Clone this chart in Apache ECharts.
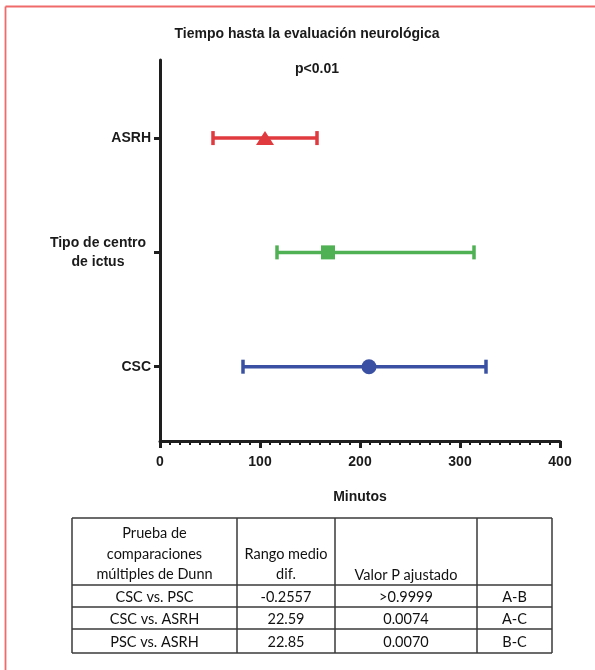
<!DOCTYPE html>
<html>
<head>
<meta charset="utf-8">
<script src="https://cdn.jsdelivr.net/npm/echarts@6/dist/echarts.min.js"></script>
<style>
html,body{margin:0;padding:0;background:#fff;}
#chart{width:595px;height:670px;}
</style>
</head>
<body>
<div id="chart"></div>
<script>
// ---- data ----
const groups = ['CSC', 'PSC', 'ASRH'];
const groupLabels = ['CSC', 'Tipo de centro\nde ictus', 'ASRH'];
const medians = [209, 168, 105];
const lower = [83, 117, 53];
const upper = [326, 314, 157];
const xTicks = [0, 100, 200, 300, 400];
const titleText = 'Tiempo hasta la evaluación neurológica';
const pText = 'p<0.01';
const xName = 'Minutos';
const tableHeader = [
  ['Prueba de', 'comparaciones', 'múltiples de Dunn'],
  ['Rango medio', 'dif.'],
  ['Valor P ajustado'],
  []
];
const tableComparisons = ['CSC vs. PSC', 'CSC vs. ASRH', 'PSC vs. ASRH'];
const tableRankDiff = ['-0.2557', '22.59', '22.85'];
const tablePAdj = ['>0.9999', '0.0074', '0.0070'];
const tablePairs = ['A-B', 'A-C', 'B-C'];

// ---- style ----
const colors = ['#3a51a3', '#4fb153', '#e0393e'];
const symbols = ['circle', 'rect', 'triangle'];
const symbolSizes = [15, 14, [18, 14]];
const axisColor = '#1e1e1e';
const fontMain = 'Liberation Sans, Arial, sans-serif';
const fontTable = 'Lato, Carlito, sans-serif';

const chart = echarts.init(document.getElementById('chart'));

// table geometry
const colX = [72, 237, 335, 477, 552];
const rowY = [518, 585, 607, 629, 653];
const graphics = [];
// red page border (top & left)
graphics.push({type:'line', shape:{x1:5.5, y1:6.5, x2:595, y2:6.5}, style:{stroke:'#f06a6a', lineWidth:1.8}});
graphics.push({type:'line', shape:{x1:5.5, y1:6.5, x2:5.5, y2:670}, style:{stroke:'#f06a6a', lineWidth:1.8}});
// table lines
colX.forEach(x => graphics.push({type:'line', shape:{x1:x, y1:rowY[0], x2:x, y2:rowY[rowY.length-1]}, style:{stroke:'#3a3a3a', lineWidth:1.5}}));
rowY.forEach(y => graphics.push({type:'line', shape:{x1:colX[0], y1:y, x2:colX[colX.length-1], y2:y}, style:{stroke:'#3a3a3a', lineWidth:1.5}}));
// header text (bottom aligned lines)
const headerLineYs = [533, 554, 574];
tableHeader.forEach((lines, c) => {
  const cx = (colX[c] + colX[c+1]) / 2;
  const n = lines.length;
  lines.forEach((t, i) => {
    const y = headerLineYs[3 - n + i] + (c === 2 ? 1 : 0);
    graphics.push({type:'text', x:cx, y:y, style:{text:t, font:'14.5px ' + fontTable, fill:'#111', align:'center', verticalAlign:'middle'}});
  });
});
const cols = [tableComparisons, tableRankDiff, tablePAdj, tablePairs];
cols.forEach((col, c) => {
  const cx = (colX[c] + colX[c+1]) / 2;
  col.forEach((t, r) => {
    const cy = (rowY[r+1] + rowY[r+2]) / 2 + 1;
    graphics.push({type:'text', x:cx, y:cy, style:{text:t, font:'14.5px ' + fontTable, fill:'#111', align:'center', verticalAlign:'middle'}});
  });
});

const errData = groups.map((g, i) => [lower[i], upper[i], i + 1, i]);

const scatterSeries = groups.map((g, i) => ({
  type: 'scatter',
  name: g,
  symbol: symbols[i],
  symbolSize: symbolSizes[i],
  itemStyle: {color: colors[i], opacity: 1},
  data: [[medians[i], i + 1]],
  z: 5
}));

chart.setOption({
  animation: false,
  backgroundColor: '#fff',
  title: [
    {text: titleText, left: 302, top: 22, textAlign: 'center',
     textStyle: {fontFamily: fontMain, fontSize: 14, fontWeight: 'bold', color: '#1a1a1a'}},
    {text: pText, left: 312, top: 57, textAlign: 'center',
     textStyle: {fontFamily: fontMain, fontSize: 14, fontWeight: 'bold', color: '#1a1a1a'}}
  ],
  grid: {left: 160, right: 35, top: 60, bottom: 229, containLabel: false},
  xAxis: {
    type: 'value', min: 0, max: 400, interval: 100,
    name: xName, nameLocation: 'middle', nameGap: 49,
    nameTextStyle: {fontFamily: fontMain, fontSize: 14, fontWeight: 'bold', color: '#1a1a1a'},
    axisLine: {show: true, lineStyle: {color: axisColor, width: 3}},
    axisTick: {show: true, length: 7, lineStyle: {color: axisColor, width: 3}},
    minorTick: {show: true, splitNumber: 10, length: 4, lineStyle: {color: axisColor, width: 2}},
    axisLabel: {margin: 14, fontFamily: fontMain, fontSize: 14, fontWeight: 'bold', color: '#1a1a1a',
      customValues: xTicks},
    splitLine: {show: false}
  },
  yAxis: {
    type: 'value', min: 0.35, max: 3.683,
    axisLine: {show: true, onZero: false, lineStyle: {color: axisColor, width: 3}},
    axisTick: {show: true, length: 6, customValues: [1, 2, 3], lineStyle: {color: axisColor, width: 3}},
    axisLabel: {
      margin: 9, customValues: [1, 2, 3],
      fontFamily: fontMain, fontSize: 14, fontWeight: 'bold', color: '#1a1a1a',
      formatter: v => {
        const lab = groupLabels[Math.round(v) - 1];
        if (lab.indexOf('\n') >= 0) {
          return lab.split('\n').map(s => '{m|' + s + '}').join('\n');
        }
        return lab;
      },
      rich: {m: {width: 106, align: 'center', fontFamily: fontMain, fontSize: 14, fontWeight: 'bold', color: '#1a1a1a', lineHeight: 19}}
    },
    splitLine: {show: false}
  },
  graphic: graphics,
  series: [
    {
      type: 'custom',
      data: errData,
      z: 3,
      renderItem: (params, api) => {
        const lo = api.coord([api.value(0), api.value(2)]);
        const hi = api.coord([api.value(1), api.value(2)]);
        const col = colors[api.value(3)];
        const h = 7;
        const st = {stroke: col, lineWidth: 3.5, fill: 'none'};
        return {type: 'group', children: [
          {type: 'line', shape: {x1: lo[0], y1: lo[1], x2: hi[0], y2: hi[1]}, style: st},
          {type: 'line', shape: {x1: lo[0], y1: lo[1] - h, x2: lo[0], y2: lo[1] + h}, style: st},
          {type: 'line', shape: {x1: hi[0], y1: hi[1] - h, x2: hi[0], y2: hi[1] + h}, style: st}
        ]};
      }
    }
  ].concat(scatterSeries)
});
</script>
</body>
</html>
